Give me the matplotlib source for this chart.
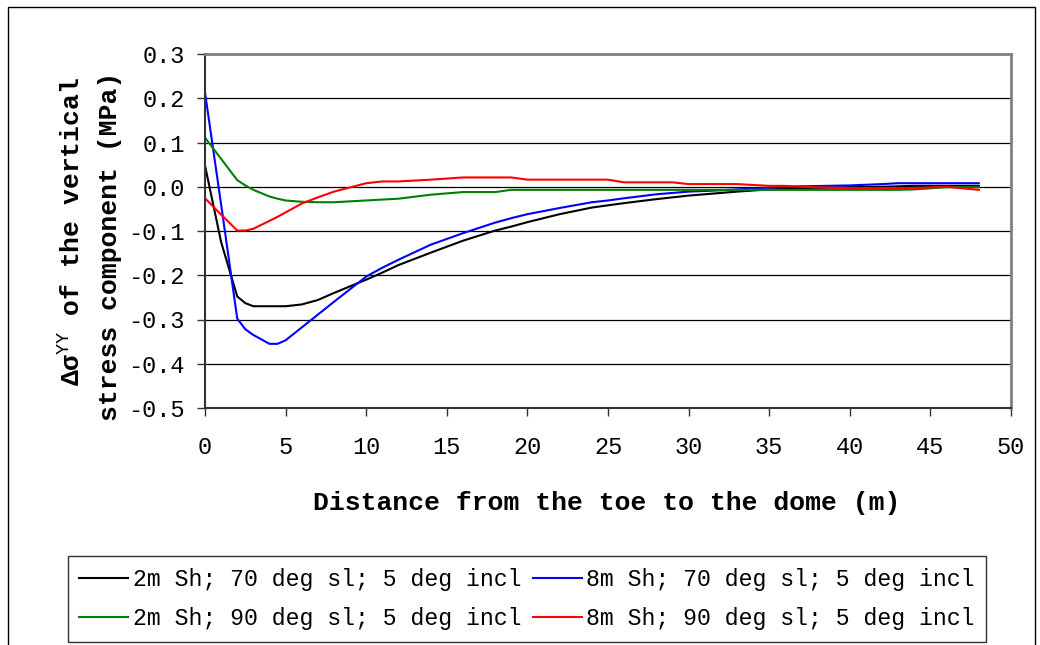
import numpy as np
import matplotlib.pyplot as plt
from matplotlib.patches import Rectangle

plt.rcParams['font.family'] = ['Liberation Mono', 'DejaVu Sans']
plt.rcParams['mathtext.fontset'] = 'custom'
plt.rcParams['mathtext.rm'] = 'Liberation Mono'

# distance from the toe (m)
dist = [0, 1, 2, 2.5, 3, 4, 4.5, 5, 6, 7, 8, 10, 11, 12, 14, 16, 18, 19, 20, 22,
        24, 25, 26, 28, 29, 30, 32, 33, 35, 36, 37, 40, 42, 43, 44, 46, 48]

sh2_70 = [0.048, -0.125, -0.248, -0.263, -0.270, -0.270, -0.270, -0.270, -0.266, -0.256,
          -0.240, -0.210, -0.194, -0.177, -0.149, -0.122, -0.099, -0.090, -0.080, -0.062,
          -0.047, -0.042, -0.037, -0.028, -0.024, -0.020, -0.014, -0.011, -0.006, -0.004,
          -0.003, -0.001, 0.000, 0.001, 0.002, 0.002, 0.002]
sh8_70 = [0.213, -0.040, -0.298, -0.322, -0.335, -0.355, -0.355, -0.347, -0.318, -0.289,
          -0.260, -0.203, -0.183, -0.165, -0.131, -0.105, -0.081, -0.071, -0.062, -0.048,
          -0.035, -0.031, -0.026, -0.017, -0.014, -0.011, -0.008, -0.006, -0.002, 0.000,
          0.001, 0.003, 0.006, 0.008, 0.008, 0.008, 0.008]
sh2_90 = [0.111, 0.063, 0.015, 0.003, -0.007, -0.022, -0.027, -0.031, -0.034, -0.035,
          -0.035, -0.031, -0.029, -0.027, -0.018, -0.012, -0.012, -0.007, -0.007, -0.007,
          -0.007, -0.007, -0.007, -0.007, -0.007, -0.007, -0.007, -0.007, -0.007, -0.007,
          -0.007, -0.007, -0.007, -0.007, -0.006, -0.001, -0.001]
sh8_90 = [-0.026, -0.063, -0.099, -0.099, -0.095, -0.077, -0.068, -0.058, -0.038, -0.024,
          -0.011, 0.008, 0.012, 0.012, 0.016, 0.021, 0.021, 0.021, 0.016, 0.016,
          0.016, 0.016, 0.010, 0.010, 0.010, 0.006, 0.006, 0.006, 0.002, 0.002,
          0.000, -0.003, -0.003, -0.003, -0.003, 0.000, -0.007]

labels = ['2m Sh; 70 deg sl; 5 deg incl', '8m Sh; 70 deg sl; 5 deg incl',
          '2m Sh; 90 deg sl; 5 deg incl', '8m Sh; 90 deg sl; 5 deg incl']
colors = ['black', '#0000ff', '#008000', '#ff0000']

fig = plt.figure(figsize=(10.4, 6.45), dpi=100)
ax = fig.add_axes([205/1040, 1-408/645, (1011-205)/1040, (408-54)/645])

lines = []
for ys, lab, c in zip([sh2_70, sh8_70, sh2_90, sh8_90], labels, colors):
    ln, = ax.plot(dist, ys, color=c, lw=1.5, label=lab)
    lines.append(ln)

ax.set_xlim(0, 50)
ax.set_ylim(-0.5, 0.3)
ax.set_xticks(np.arange(0, 51, 5))
yt = np.arange(-0.5, 0.31, 0.1)
ax.set_yticks(yt)
ax.set_yticklabels(['%.1f' % v if abs(v) > 1e-9 else '0.0' for v in yt])
ax.yaxis.grid(True, color='black', lw=0.9)
ax.set_axisbelow(True)
ax.tick_params(axis='both', direction='out', length=6, width=1, color='#333333', labelsize=17)
ax.tick_params(axis='x', pad=14)
ax.tick_params(axis='y', pad=8.5)
for s in ['top', 'right']:
    ax.spines[s].set_color('#808080')
    ax.spines[s].set_linewidth(2)
for s in ['left', 'bottom']:
    ax.spines[s].set_color('#333333')
    ax.spines[s].set_linewidth(1.5)

fig.text(607/1040, 1-503/645, 'Distance from the toe to the dome (m)',
         ha='center', va='center', fontsize=19, fontweight='bold')
fig.text(72/1040, 1-232/645, r'Δσ$^{\rm YY}$ of the vertical', rotation=90,
         ha='center', va='center', fontsize=19, fontweight='bold')
fig.text(110/1040, 1-246/645, 'stress component (MPa)', rotation=90,
         ha='center', va='center', fontsize=19, fontweight='bold')

leg = fig.legend([lines[0], lines[2], lines[1], lines[3]],
                 [labels[0], labels[2], labels[1], labels[3]],
                 ncol=2, loc='center', bbox_to_anchor=(527/1040, 1-599/645),
                 fontsize=16.7, frameon=True, fancybox=False, edgecolor='black',
                 handlelength=2.1, handletextpad=0.2, columnspacing=0.5,
                 labelspacing=0.7, borderpad=0.5)
leg.get_frame().set_linewidth(1)

fig.patches.append(Rectangle((8/1040, -0.1), (1035-8)/1040, 1.1 - 7/645,
                             transform=fig.transFigure, fill=False,
                             edgecolor='black', lw=1))

fig.savefig('out.png', dpi=100)
